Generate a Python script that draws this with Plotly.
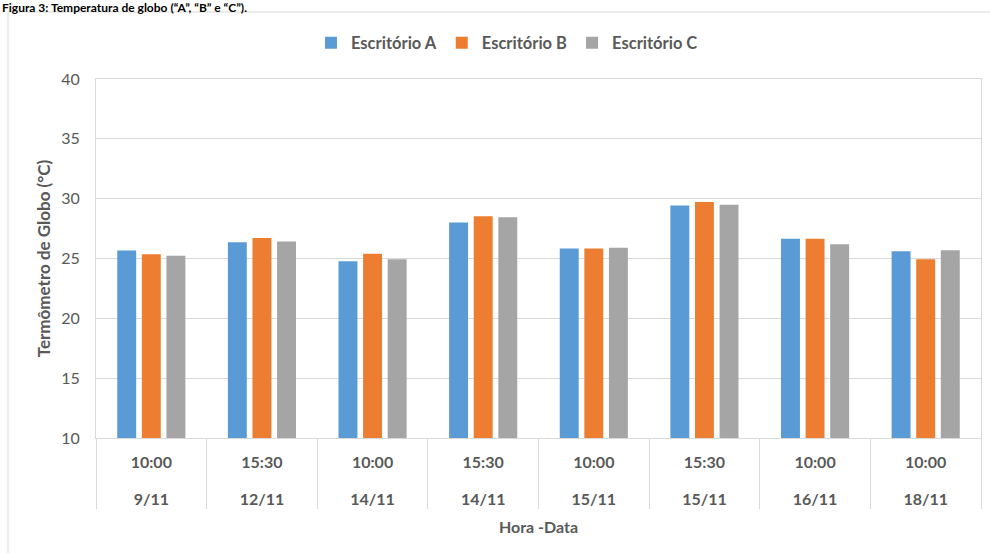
import plotly.graph_objects as go

times = ["10:00", "15:30", "10:00", "15:30", "10:00", "15:30", "10:00", "10:00"]
dates = ["9/11", "12/11", "14/11", "14/11", "15/11", "15/11", "16/11", "18/11"]
escritorio_a = [25.67, 26.36, 24.78, 28.00, 25.83, 29.42, 26.64, 25.61]
escritorio_b = [25.36, 26.72, 25.39, 28.53, 25.83, 29.72, 26.64, 24.94]
escritorio_c = [25.22, 26.42, 24.94, 28.44, 25.89, 29.50, 26.19, 25.69]
series_names = ["Escritório A", "Escritório B", "Escritório C"]
colors = ["#5B9BD5", "#ED7D31", "#A5A5A5"]

# make every date cell unique so each measurement keeps its own cell;
# the inner (time) label gets an extra blank line to space the two label rows
outer = [d + "\u200b" * i for i, d in enumerate(dates)]
inner = [t + "<br><span style='font-size:36px'>\u00a0</span>" for t in times]
x = [outer, inner]

FONT = "Lato, Calibri, sans-serif"
GREY = "#595959"

fig = go.Figure()
for name, vals, c in zip(series_names, [escritorio_a, escritorio_b, escritorio_c], colors):
    fig.add_trace(go.Bar(x=x, y=vals, name=name, marker=dict(color=c, line=dict(width=0))))

W, H = 990, 553
L, R, T, B = 96, 9, 79, 115
pw, ph = W - L - R, H - T - B

def px(xp):
    return (xp - L) / pw

def py(yp):
    return (H - B - yp) / ph

fig.update_layout(
    width=W, height=H,
    margin=dict(l=L, r=R, t=T, b=B),
    paper_bgcolor="white", plot_bgcolor="white",
    barmode="group", bargap=0.333, bargroupgap=0.23,
    font=dict(family=FONT, color=GREY, size=16),
    legend=dict(
        orientation="h", x=px(507), xanchor="center", y=py(43), yanchor="middle",
        font=dict(family=FONT, size=16.5, color=GREY, weight="bold"),
        itemwidth=30, traceorder="normal",
    ),
    xaxis=dict(
        type="multicategory",
        showgrid=False,
        showline=True, linecolor="#D9D9D9", linewidth=1, mirror=True,
        showdividers=True, dividercolor="#D9D9D9", dividerwidth=1,
        ticklabelstandoff=10,
        tickfont=dict(family=FONT, size=16, color=GREY, weight="bold"),
        title=dict(text="Hora -Data", font=dict(family=FONT, size=16, color=GREY, weight="bold"), standoff=14),
    ),
    yaxis=dict(
        range=[10, 40], dtick=5, tick0=10,
        showgrid=True, gridcolor="#D9D9D9", gridwidth=1,
        showline=True, linecolor="#D9D9D9", linewidth=1, mirror=True,
        zeroline=False, ticks="", ticklabelstandoff=12,
        tickfont=dict(family=FONT, size=16, color=GREY),
        title=dict(text="Termômetro de Globo (°C)", font=dict(family=FONT, size=17, color=GREY, weight="bold"), standoff=6),
    ),
    shapes=[
        dict(type="rect", xref="paper", yref="paper",
             x0=px(8), x1=px(1010), y0=py(600), y1=py(12),
             line=dict(color="#D9D9D9", width=1), fillcolor="rgba(0,0,0,0)", layer="below"),
    ],
    annotations=[
        dict(text="Figura 3: Temperatura de globo (“A”, “B” e “C”).", xref="paper", yref="paper",
             x=px(0), xanchor="left", y=py(-2), yanchor="top", showarrow=False,
             font=dict(family=FONT, size=12, color="black", weight="bold")),
    ],
)

fig.write_html("out.html")
